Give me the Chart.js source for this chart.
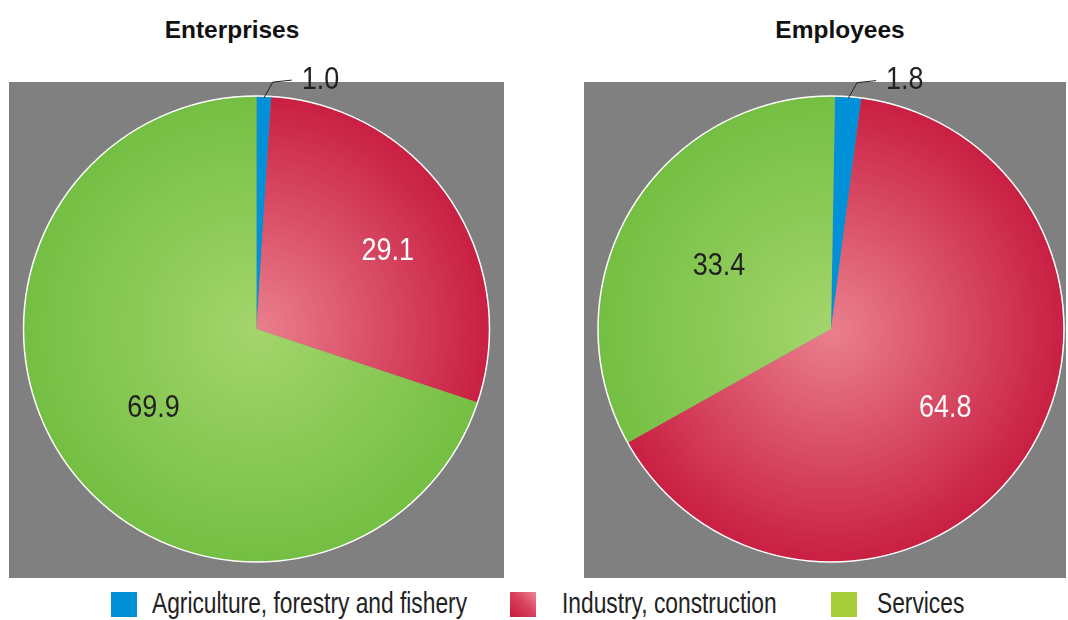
<!DOCTYPE html>
<html>
<head>
<meta charset="utf-8">
<script src="https://cdn.jsdelivr.net/npm/chart.js@4"></script>
<style>
  body { margin: 0; width: 1068px; height: 620px; background: #fff; position: relative; overflow: hidden; font-family: "Liberation Sans", Arial, sans-serif; }
  .title { position: absolute; top: 16px; font-weight: bold; font-size: 24px; color: #111; transform: translateX(-50%) scaleX(1.02); white-space: nowrap; }
  .box { position: absolute; top: 56px; height: 522px; }
  .legend-item { position: absolute; top: 592px; height: 26px; }
  .legend-item .sw { position: absolute; left: 0; top: 0; width: 26px; height: 25px; }
  .legend-item .txt { position: absolute; top: -5px; font-size: 29px; color: #222; white-space: nowrap; transform: scaleX(0.785); transform-origin: 0 50%; }
</style>
</head>
<body>

<div class="title" style="left:232px">Enterprises</div>
<div class="title" style="left:840px">Employees</div>

<div class="box" style="left:9px; width:495px"><canvas id="chartEnterprises"></canvas></div>
<div class="box" style="left:584px; width:482px"><canvas id="chartEmployees"></canvas></div>

<div id="legend"></div>

<script>
// data
const categories = ["Agriculture, forestry and fishery", "Industry, construction", "Services"];
const enterprises = [1.0, 29.1, 69.9];
const employees = [1.8, 64.8, 33.4];

// colours
const flatColors = ["#0091d8", "#cf2547", "#8cc956"];
const innerColors = ["#0091d8", "#ea808d", "#a4d56c"];
const outerColors = ["#0091d8", "#c91f42", "#74bf43"];
const labelColors = ["#231f20", "#ffffff", "#231f20"];

const labelFont = '31px "Liberation Sans", Arial, sans-serif';
const labelSqueeze = 0.87;

// radial shading from the pie centre outwards
function sliceColor(c) {
  const chart = c.chart;
  const area = chart.chartArea;
  const i = c.dataIndex;
  if (!area || i === 0) return flatColors[i];
  const cx = (area.left + area.right) / 2;
  const cy = (area.top + area.bottom) / 2;
  const r = Math.min(area.right - area.left, area.bottom - area.top) / 2;
  const g = chart.ctx.createRadialGradient(cx, cy, 0, cx, cy, r);
  g.addColorStop(0, innerColors[i]);
  g.addColorStop(1, outerColors[i]);
  return g;
}

// grey panel behind the pie
const panelBg = {
  id: "panelBg",
  beforeDraw(chart) {
    const ctx = chart.ctx;
    ctx.save();
    ctx.fillStyle = "#808080";
    ctx.fillRect(0, 26, chart.width, chart.height - 26);
    ctx.restore();
  }
};

// condensed text, anchored at (x, y)
function drawNarrow(ctx, text, x, y, align) {
  ctx.save();
  ctx.translate(x, y);
  ctx.scale(labelSqueeze, 1);
  ctx.textAlign = align;
  ctx.fillText(text, 0, 0);
  ctx.restore();
}

// thin white rim + value labels
const pieLabels = {
  id: "pieLabels",
  afterDatasetsDraw(chart, args, opts) {
    const ctx = chart.ctx;
    const meta = chart.getDatasetMeta(0);
    const values = chart.data.datasets[0].data;
    const first = meta.data[0];

    ctx.save();
    ctx.strokeStyle = "#ffffff";
    ctx.lineWidth = 1.5;
    ctx.beginPath();
    ctx.arc(first.x, first.y, first.outerRadius, 0, Math.PI * 2);
    ctx.stroke();

    ctx.font = labelFont;
    ctx.textBaseline = "middle";
    meta.data.forEach((arc, i) => {
      const p = arc.getProps(["x", "y", "startAngle", "endAngle", "outerRadius"], true);
      const mid = (p.startAngle + p.endAngle) / 2;
      const text = values[i].toFixed(1);
      if (values[i] >= 5) {
        const d = p.outerRadius * opts.dist[i];
        const a = mid + opts.nudge[i] * Math.PI / 180;
        ctx.fillStyle = labelColors[i];
        drawNarrow(ctx, text, p.x + Math.cos(a) * d, p.y + Math.sin(a) * d + 1, "center");
      } else {
        // small slice: leader line to a label above the pie
        const sx = p.x + Math.cos(mid) * (p.outerRadius - 2);
        const sy = p.y + Math.sin(mid) * (p.outerRadius - 2);
        const ex = sx + 9, ey = sy - 16;
        const hx = ex + 19, hy = ey - 2;
        ctx.strokeStyle = "#222";
        ctx.lineWidth = 1;
        ctx.beginPath();
        ctx.moveTo(sx, sy);
        ctx.lineTo(ex, ey);
        ctx.lineTo(hx, hy);
        ctx.stroke();
        ctx.fillStyle = "#231f20";
        drawNarrow(ctx, text, hx + 10, hy, "left");
      }
    });
    ctx.restore();
  }
};

function makePie(id, values, rotation, padLeft, dist, nudge) {
  return new Chart(document.getElementById(id), {
    type: "pie",
    data: {
      labels: categories,
      datasets: [{
        data: values,
        backgroundColor: sliceColor,
        borderWidth: 0
      }]
    },
    options: {
      responsive: true,
      maintainAspectRatio: false,
      animation: false,
      events: [],
      rotation: rotation,
      layout: { padding: { top: 40, bottom: 16, left: padLeft, right: 0 } },
      plugins: {
        legend: { display: false },
        tooltip: { enabled: false },
        pieLabels: { dist: dist, nudge: nudge }
      }
    },
    plugins: [panelBg, pieLabels]
  });
}

makePie("chartEnterprises", enterprises, 0, 0, [0, 0.657, 0.556], [0, 3, -1.5]);
makePie("chartEmployees", employees, 1, 12, [0, 0.594, 0.552], [0, 0.2, -1.4]);

// shared legend under both pies
const legendSwatch = [
  "#0091d8",
  "linear-gradient(45deg, #c51b3e 0%, #d9435f 55%, #ec8591 100%)",
  "#a6cd3a"
];
const legendLeft = [111, 510, 831];
const legendTextLeft = [41, 52, 46];
const legend = document.getElementById("legend");
categories.forEach((name, i) => {
  const item = document.createElement("div");
  item.className = "legend-item";
  item.style.left = legendLeft[i] + "px";
  item.innerHTML = '<div class="sw" style="background:' + legendSwatch[i] + '"></div>' +
    '<div class="txt" style="left:' + legendTextLeft[i] + 'px">' + name + '</div>';
  legend.appendChild(item);
});
</script>
</body>
</html>
